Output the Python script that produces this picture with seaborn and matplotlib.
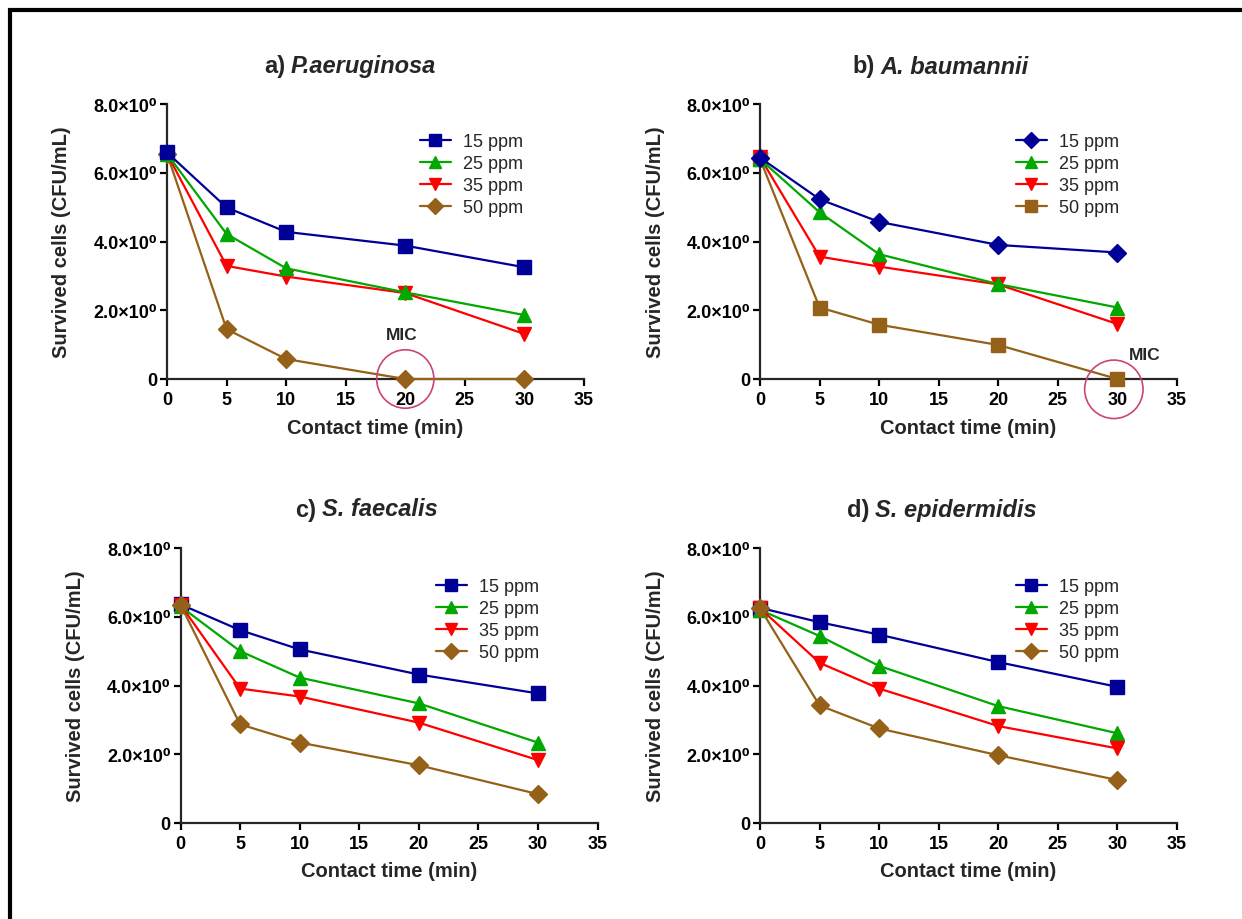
"""
Time-kill curves: survived cells vs contact time for four strains
"""

import matplotlib.pyplot as plt
import pandas as pd
import seaborn as sns
from matplotlib.patches import Ellipse, Rectangle

# data
times = [0, 5, 10, 20, 30]
concs = ["15 ppm", "25 ppm", "35 ppm", "50 ppm"]

pa_15 = [6.59, 4.99, 4.28, 3.88, 3.25]
pa_25 = [6.55, 4.22, 3.22, 2.52, 1.86]
pa_35 = [6.55, 3.29, 2.98, 2.50, 1.31]
pa_50 = [6.55, 1.45, 0.58, 0.0, 0.0]

ab_15 = [6.44, 5.23, 4.57, 3.90, 3.68]
ab_25 = [6.40, 4.85, 3.63, 2.76, 2.08]
ab_35 = [6.45, 3.56, 3.27, 2.75, 1.60]
ab_50 = [6.40, 2.08, 1.58, 0.99, 0.0]

sf_15 = [6.36, 5.61, 5.05, 4.32, 3.77]
sf_25 = [6.30, 5.00, 4.23, 3.48, 2.34]
sf_35 = [6.35, 3.91, 3.68, 2.92, 1.83]
sf_50 = [6.35, 2.87, 2.34, 1.68, 0.84]

se_15 = [6.26, 5.84, 5.48, 4.68, 3.96]
se_25 = [6.20, 5.44, 4.57, 3.40, 2.61]
se_35 = [6.25, 4.66, 3.91, 2.82, 2.17]
se_50 = [6.25, 3.42, 2.75, 1.97, 1.25]

panel_tags = ["a)", "b)", "c)", "d)"]
species = ["P.aeruginosa", "A. baumannii", "S. faecalis", "S. epidermidis"]
ytick_vals = [0, 2, 4, 6, 8]
ytick_labels = ["0", "2.0×10⁰", "4.0×10⁰", "6.0×10⁰", "8.0×10⁰"]
xtick_vals = [0, 5, 10, 15, 20, 25, 30, 35]

colors = ["#000096", "#00a800", "#ff0000", "#956018"]
markers_sq = ["s", "^", "v", "D"]   # a, c, d
markers_b = ["D", "^", "v", "s"]    # b swaps square/diamond
# which series sits on top at t=0 in each panel
top_first = [True, True, False, False]

series = [
    [pa_15, pa_25, pa_35, pa_50],
    [ab_15, ab_25, ab_35, ab_50],
    [sf_15, sf_25, sf_35, sf_50],
    [se_15, se_25, se_35, se_50],
]

sns.set_style("ticks")
plt.rcParams["font.family"] = ["Liberation Sans", "DejaVu Sans"]

W, H = 1242, 920
fig = plt.figure(figsize=(W / 100, H / 100), dpi=100)

# axes boxes in pixels: left, y of zero line
boxes = [(167, 380), (760, 380), (180.5, 824), (760, 824)]
ax_w, ax_h = 417, 275
title_pos = [(285, 67), (875, 67), (316, 510), (869, 510)]
legend_pos = [(420, 134), (1016, 134), (436, 579), (1016, 579)]
msize = {"s": 10.5, "D": 9, "^": 10, "v": 10}

for i in range(4):
    x0, y0 = boxes[i]
    ax = fig.add_axes([x0 / W, 1 - y0 / H, ax_w / W, ax_h / H])
    mk = markers_b if i == 1 else markers_sq
    for j, vals in enumerate(series[i]):
        df = pd.DataFrame({"time": times, "cells": vals})
        z = 10 - j if top_first[i] else 3 + j
        sns.lineplot(data=df, x="time", y="cells", ax=ax, color=colors[j],
                     marker=mk[j], markersize=msize[mk[j]], linewidth=1.6,
                     markeredgecolor=colors[j], markeredgewidth=1,
                     label=concs[j], clip_on=False, zorder=z)

    ax.set_xlim(0, 35)
    ax.set_ylim(0, 8)
    ax.set_xticks(xtick_vals)
    ax.set_yticks(ytick_vals)
    ax.set_yticklabels(ytick_labels)
    sns.despine(ax=ax)
    for sp in ["left", "bottom"]:
        ax.spines[sp].set_linewidth(1.6)
    ax.tick_params(width=1.6, length=5, labelsize=13, colors="black")
    ax.tick_params(axis="y", pad=2)
    for lbl in ax.get_xticklabels() + ax.get_yticklabels():
        lbl.set_fontweight("bold")

    ax.set_xlabel("Contact time (min)", fontsize=14.5, fontweight="bold", va="center")
    ax.xaxis.set_label_coords(0.5, -48 / ax_h)
    ax.set_ylabel("Survived cells (CFU/mL)", fontsize=14.5, fontweight="bold", va="center")
    ax.yaxis.set_label_coords(-105 / ax_w, 0.5)

    lx, ly = legend_pos[i]
    ax.legend(loc="upper left", bbox_to_anchor=(lx / W, 1 - ly / H),
              bbox_transform=fig.transFigure, frameon=False, fontsize=13,
              handlelength=1.7, handletextpad=0.7, labelspacing=0.28,
              borderpad=0, borderaxespad=0, markerscale=0.85)

    tx, ty = title_pos[i]
    t1 = fig.text(tx / W, 1 - ty / H, panel_tags[i], ha="right", va="center",
                  fontsize=17, fontweight="bold")
    ax.annotate(species[i], xy=(1, 0.5), xycoords=t1, xytext=(4, 0),
                textcoords="offset points", ha="left", va="center",
                fontsize=17, fontweight="bold", fontstyle="italic")

    # MIC marks on the two gram-negative panels
    if i == 0:
        ax.add_patch(Ellipse((20, 0), 4.8, 1.7, fill=False, ec="#c8457a",
                             lw=1.2, clip_on=False, zorder=20))
        ax.text(19.7, 1.3, "MIC", ha="center", va="center", fontsize=12.5,
                fontweight="bold")
    if i == 1:
        ax.add_patch(Ellipse((29.7, -0.3), 4.9, 1.7, fill=False, ec="#c8457a",
                             lw=1.2, clip_on=False, zorder=20))
        ax.text(32.3, 0.7, "MIC", ha="center", va="center", fontsize=12.5,
                fontweight="bold")

# frame around the whole figure (right and bottom edges fall outside)
fig.add_artist(Rectangle((10 / W, -0.05), 1.2, 1.05 - 11 / H, transform=fig.transFigure,
                         fill=False, ec="black", lw=3))

fig.savefig("out.png", dpi=100)
